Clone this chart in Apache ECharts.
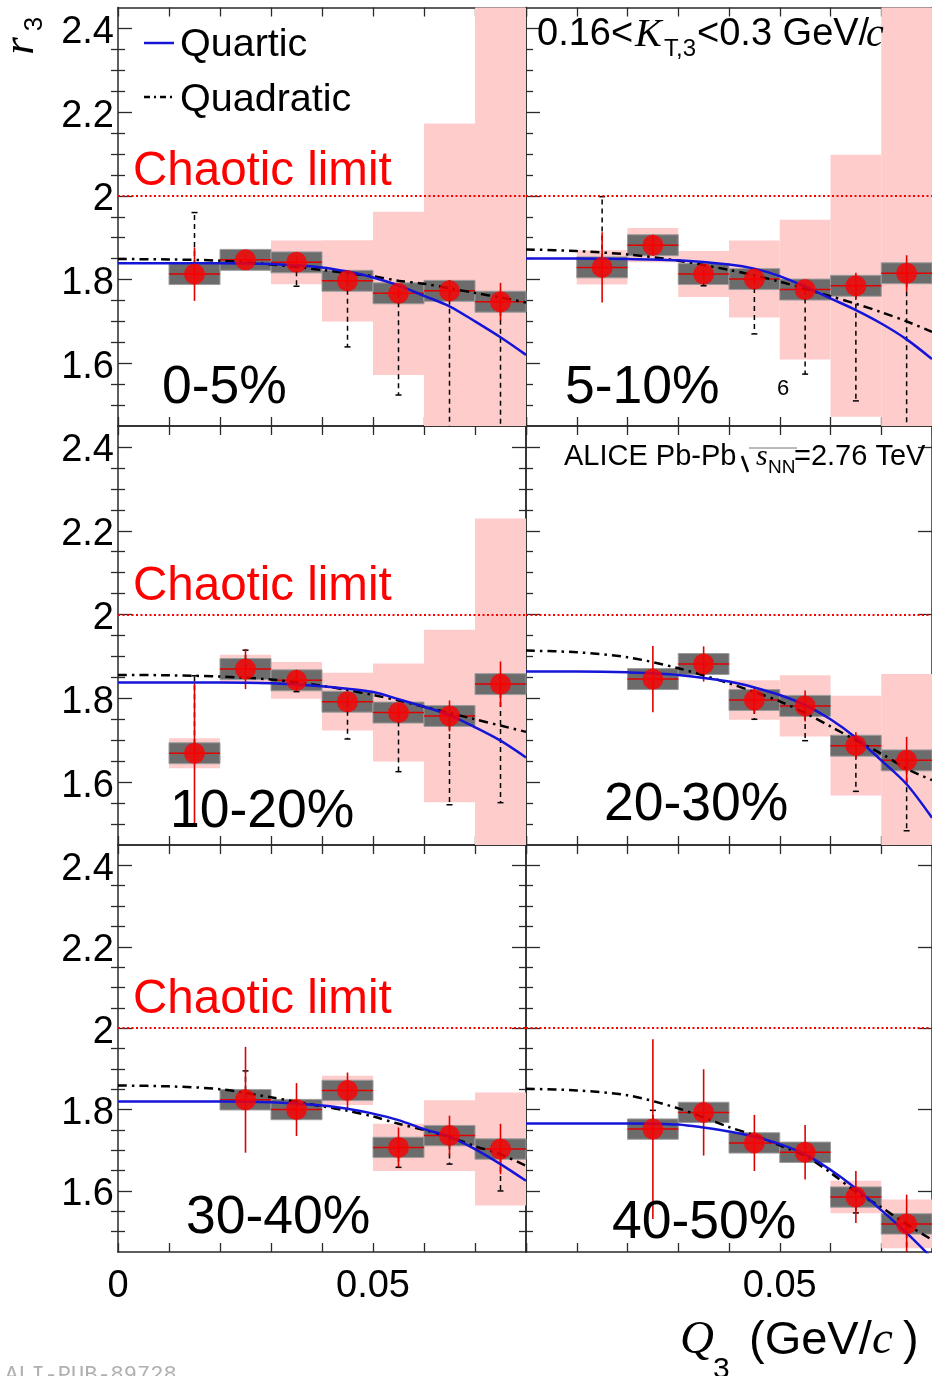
<!DOCTYPE html>
<html>
<head>
<meta charset="utf-8">
<script src="https://cdn.jsdelivr.net/npm/echarts@6/dist/echarts.min.js"></script>
<style>
html,body{margin:0;padding:0;background:#fff;}
#chart{width:932px;height:1376px;}
</style>
</head>
<body>
<div id="chart"></div>
<script>
// ---------------- DATA ----------------
const centralityLabels = ['0-5%', '5-10%', '10-20%', '20-30%', '30-40%', '40-50%'];
const binCenters = [0.015, 0.025, 0.035, 0.045, 0.055, 0.065, 0.075];
const binHalfWidth = 0.005;
const sysBoxHalf = [0.025, 0.025, 0.025, 0.025, 0.025, 0.025, 0.025];
const xTickLabelsLeft = [0, 0.05];
const xTickLabelsRight = [0.05];
const yTickLabels = [1.6, 1.8, 2.0, 2.2, 2.4];
const yMinorTicks = [1.5, 1.55, 1.65, 1.7, 1.75, 1.85, 1.9, 1.95, 2.05, 2.1, 2.15, 2.25, 2.3, 2.35];
const chaoticLimit = 2.0;

// r3 points, stat errors, pink systematic half-heights, dashed-bar end values
const r3_0_5   = [1.813, 1.847, 1.841, 1.797, 1.767, 1.773, 1.747];
const stat_0_5 = [0.064, 0.012, 0.012, 0.012, 0.012, 0.026, 0.045];
const pink_0_5 = [null, null, 0.052, 0.097, 0.195, 0.40, 0.75];
const dash_0_5 = [1.960, null, 1.784, 1.639, 1.524, 1.30, 1.30];

const r3_5_10   = [1.829, 1.882, 1.813, 1.801, 1.776, 1.785, 1.815];
const stat_5_10 = [0.084, 0.025, 0.012, 0.012, 0.012, 0.031, 0.043];
const pink_5_10 = [0.041, 0.041, 0.055, 0.092, 0.167, 0.313, 0.70];
const dash_5_10 = [1.998, null, 1.785, 1.670, 1.574, 1.510, 1.30];

const r3_10_20   = [1.669, 1.870, 1.843, 1.792, 1.766, 1.758, 1.834];
const stat_10_20 = [0.167, 0.048, 0.025, 0.015, 0.015, 0.037, 0.054];
const pink_10_20 = [0.036, 0.034, 0.044, 0.069, 0.117, 0.206, 0.395];
const dash_10_20 = [1.854, 1.915, 1.816, 1.703, 1.625, 1.546, 1.551];

const r3_20_30   = [null, 1.846, 1.882, 1.796, 1.782, 1.687, 1.652];
const stat_20_30 = [null, 0.079, 0.042, 0.032, 0.037, 0.032, 0.056];
const pink_20_30 = [null, null, null, 0.047, 0.073, 0.119, 0.206];
const dash_20_30 = [null, null, null, 1.750, 1.699, 1.578, 1.484];

const r3_30_40   = [null, 1.824, 1.800, 1.847, 1.707, 1.736, 1.703];
const stat_30_40 = [null, 0.130, 0.065, 0.044, 0.049, 0.049, 0.062];
const pink_30_40 = [null, null, null, 0.036, 0.058, 0.087, 0.139];
const dash_30_40 = [null, 1.895, null, null, 1.658, 1.666, 1.600];

const r3_40_50   = [null, 1.752, 1.793, 1.718, 1.695, 1.585, 1.519];
const stat_40_50 = [null, 0.221, 0.106, 0.069, 0.067, 0.064, 0.072];
const pink_40_50 = [null, null, null, null, null, 0.040, 0.060];
const dash_40_50 = [null, 1.798, null, null, null, 1.546, 1.40];

// fit curves
const fitQ3 = [0, 0.01, 0.02, 0.03, 0.04, 0.045, 0.05, 0.055, 0.06, 0.065, 0.07, 0.075, 0.08];
const quartic_0_5     = [1.839, 1.839, 1.839, 1.837, 1.829, 1.819, 1.805, 1.786, 1.761, 1.736, 1.700, 1.662, 1.620];
const quadratic_0_5   = [1.849, 1.848, 1.845, 1.836, 1.823, 1.815, 1.808, 1.797, 1.790, 1.779, 1.768, 1.757, 1.745];
const quartic_5_10    = [1.850, 1.850, 1.849, 1.846, 1.836, 1.826, 1.808, 1.783, 1.755, 1.727, 1.695, 1.657, 1.610];
const quadratic_5_10  = [1.872, 1.868, 1.860, 1.845, 1.823, 1.810, 1.795, 1.778, 1.760, 1.742, 1.722, 1.700, 1.675];
const quartic_10_20   = [1.838, 1.838, 1.838, 1.836, 1.829, 1.823, 1.815, 1.798, 1.780, 1.760, 1.731, 1.699, 1.659];
const quadratic_10_20 = [1.856, 1.855, 1.852, 1.845, 1.830, 1.820, 1.808, 1.795, 1.780, 1.765, 1.750, 1.735, 1.720];
const quartic_20_30   = [1.864, 1.864, 1.862, 1.856, 1.840, 1.826, 1.808, 1.784, 1.750, 1.706, 1.652, 1.595, 1.515];
const quadratic_20_30 = [1.914, 1.910, 1.898, 1.872, 1.836, 1.815, 1.793, 1.765, 1.733, 1.700, 1.668, 1.632, 1.605];
const quartic_30_40   = [1.820, 1.820, 1.820, 1.818, 1.810, 1.802, 1.790, 1.774, 1.752, 1.733, 1.703, 1.666, 1.625];
const quadratic_30_40 = [1.859, 1.857, 1.850, 1.830, 1.808, 1.797, 1.783, 1.765, 1.750, 1.733, 1.710, 1.690, 1.662];
const quartic_40_50   = [1.766, 1.766, 1.766, 1.763, 1.746, 1.733, 1.715, 1.690, 1.652, 1.606, 1.553, 1.497, 1.435];
const quadratic_40_50 = [1.851, 1.847, 1.835, 1.803, 1.757, 1.737, 1.712, 1.686, 1.645, 1.598, 1.560, 1.518, 1.480];

// ---------------- LAYOUT / STYLE ----------------
const X_MIN = 0, X_MAX = 0.08, Y_MIN = 1.45, Y_MAX = 2.45;
const gridBoxes = [
  {left: 118, top: 7.5, width: 408, height: 418.5},
  {left: 526, top: 7.5, width: 408, height: 418.5},
  {left: 118, top: 426, width: 408, height: 419},
  {left: 526, top: 426, width: 408, height: 419},
  {left: 118, top: 845, width: 408, height: 407},
  {left: 526, top: 845, width: 408, height: 407}
];
const SANS = '"Liberation Sans", Arial, Helvetica, sans-serif';
const SERIF = '"Liberation Serif", "Times New Roman", serif';
const FRAME = '#2a2a2a';
const RED = '#ff0000';
const BLUE = '#1515d8';
const PINK = '#ffcccc';
const GRAY = '#6c6c6c';
const DY = 4; // vertical text nudge

const panels = [
  {r3: r3_0_5, stat: stat_0_5, pink: pink_0_5, dash: dash_0_5, quartic: quartic_0_5, quadratic: quadratic_0_5},
  {r3: r3_5_10, stat: stat_5_10, pink: pink_5_10, dash: dash_5_10, quartic: quartic_5_10, quadratic: quadratic_5_10},
  {r3: r3_10_20, stat: stat_10_20, pink: pink_10_20, dash: dash_10_20, quartic: quartic_10_20, quadratic: quadratic_10_20},
  {r3: r3_20_30, stat: stat_20_30, pink: pink_20_30, dash: dash_20_30, quartic: quartic_20_30, quadratic: quadratic_20_30},
  {r3: r3_30_40, stat: stat_30_40, pink: pink_30_40, dash: dash_30_40, quartic: quartic_30_40, quadratic: quadratic_30_40},
  {r3: r3_40_50, stat: stat_40_50, pink: pink_40_50, dash: dash_40_50, quartic: quartic_40_50, quadratic: quadratic_40_50}
];

const lineStyleFrame = {color: FRAME, width: 1.5};

function xAxisDef(gi, position, labelVals) {
  return {
    type: 'value', gridIndex: gi, position: position, min: X_MIN, max: X_MAX, interval: 0.01,
    axisLine: {show: true, onZero: false, lineStyle: lineStyleFrame},
    axisTick: {show: true, inside: true, length: 9, lineStyle: {color: FRAME, width: 1.3}},
    axisLabel: labelVals ? {
      show: true, customValues: labelVals, margin: 16,
      formatter: v => (v === 0 ? '0' : String(+v.toFixed(2))),
      fontSize: 38, fontFamily: SANS, color: '#000'
    } : {show: false},
    splitLine: {show: false}
  };
}
function yMajorDef(gi, position, showLabels) {
  return {
    type: 'value', gridIndex: gi, position: position, min: Y_MIN, max: Y_MAX, interval: 0.05,
    axisLine: {show: true, onZero: false, lineStyle: lineStyleFrame},
    axisTick: {show: true, inside: true, length: 14, customValues: yTickLabels, lineStyle: {color: FRAME, width: 1.3}},
    axisLabel: showLabels ? {
      show: true, customValues: yTickLabels, margin: 4,
      formatter: v => '{t|' + String(Math.round(v * 10) / 10) + '}',
      rich: {t: {fontSize: 38, fontFamily: SANS, color: '#000', padding: [8, 0, 0, 0]}},
      fontSize: 38, fontFamily: SANS, color: '#000'
    } : {show: false},
    splitLine: {show: false}
  };
}
function yMinorDef(gi, position) {
  return {
    type: 'value', gridIndex: gi, position: position, min: Y_MIN, max: Y_MAX, interval: 0.05,
    axisLine: {show: false},
    axisTick: {show: true, inside: true, length: 7, customValues: yMinorTicks, lineStyle: {color: FRAME, width: 1.3}},
    axisLabel: {show: false},
    splitLine: {show: false}
  };
}

function clipToGrid(rect, cs) {
  return echarts.graphic.clipRectByRect(rect, {x: cs.x, y: cs.y, width: cs.width, height: cs.height});
}

function renderBox(fill, stroke) {
  return function (params, api) {
    const cs = params.coordSys;
    const x = api.value(0), v = api.value(1), h = api.value(2);
    if (!isFinite(h)) return null;
    const p1 = api.coord([x - binHalfWidth, v + h]);
    const p2 = api.coord([x + binHalfWidth, v - h]);
    const r = clipToGrid({x: p1[0], y: p1[1], width: p2[0] - p1[0], height: p2[1] - p1[1]}, cs);
    if (!r) return null;
    return {type: 'rect', shape: r, style: stroke ? {fill: fill, stroke: stroke, lineWidth: 1} : {fill: fill}};
  };
}

function renderErrors(params, api) {
  const x = api.value(0), v = api.value(1), s = api.value(2), d = api.value(3);
  const l = api.coord([x - binHalfWidth, v]);
  const r = api.coord([x + binHalfWidth, v]);
  const t = api.coord([x, Math.min(Y_MAX, v + s)]);
  const b = api.coord([x, Math.max(Y_MIN, v - s)]);
  const children = [];
  if (isFinite(d)) {
    const dc = Math.max(Y_MIN, Math.min(Y_MAX, d));
    const p0 = api.coord([x, v]);
    const p1 = api.coord([x, dc]);
    children.push({type: 'line', shape: {x1: p0[0], y1: p0[1], x2: p1[0], y2: p1[1]},
      style: {stroke: '#000', lineWidth: 1.5, lineDash: [5, 4]}});
    if (dc === d) {
      children.push({type: 'line', shape: {x1: p1[0] - 3, y1: p1[1], x2: p1[0] + 3, y2: p1[1]},
        style: {stroke: '#000', lineWidth: 1.5}});
    }
  }
  children.push({type: 'line', shape: {x1: l[0], y1: l[1], x2: r[0], y2: r[1]}, style: {stroke: '#e00000', lineWidth: 1.5}});
  children.push({type: 'line', shape: {x1: t[0], y1: t[1], x2: b[0], y2: b[1]}, style: {stroke: '#e00000', lineWidth: 1.6}});
  return {type: 'group', children: children};
}

const grid = [], xAxis = [], yAxis = [], series = [];

panels.forEach((p, i) => {
  const isLeft = i % 2 === 0;
  const isBottom = i >= 4;
  grid.push(Object.assign({containLabel: false}, gridBoxes[i]));
  const xi = xAxis.length;
  xAxis.push(xAxisDef(i, 'bottom', isBottom ? (isLeft ? xTickLabelsLeft : xTickLabelsRight) : null));
  xAxis.push(xAxisDef(i, 'top', null));
  const yi = yAxis.length;
  yAxis.push(yMajorDef(i, 'left', isLeft));
  yAxis.push(yMinorDef(i, 'left'));
  yAxis.push(yMajorDef(i, 'right', false));
  yAxis.push(yMinorDef(i, 'right'));

  const idx = binCenters.map((_, k) => k).filter(k => p.r3[k] != null);
  const pinkData = idx.filter(k => p.pink[k] != null).map(k => [binCenters[k], p.r3[k], p.pink[k]]);
  const grayData = idx.map(k => [binCenters[k], p.r3[k], sysBoxHalf[k]]);
  const errData = idx.map(k => [binCenters[k], p.r3[k], p.stat[k], p.dash[k] == null ? NaN : p.dash[k]]);
  const ptData = idx.map(k => [binCenters[k], p.r3[k]]);

  series.push({
    type: 'custom', name: 'sys-pink', xAxisIndex: xi, yAxisIndex: yi, z: 1,
    renderItem: renderBox(PINK, null), encode: {x: 0, y: 1}, data: pinkData, silent: true
  });
  series.push({
    type: 'custom', name: 'sys-gray', xAxisIndex: xi, yAxisIndex: yi, z: 2,
    renderItem: renderBox(GRAY, '#9c9c9c'), encode: {x: 0, y: 1}, data: grayData, silent: true
  });
  series.push({
    type: 'custom', name: 'errors', xAxisIndex: xi, yAxisIndex: yi, z: 3,
    renderItem: renderErrors, encode: {x: 0, y: 1}, data: errData, silent: true,
    markLine: {
      silent: true, symbol: 'none', label: {show: false},
      lineStyle: {color: RED, type: [2, 2.5], width: 2, opacity: 1},
      data: [{yAxis: chaoticLimit}]
    }
  });
  series.push({
    type: 'line', name: 'Quadratic', xAxisIndex: xi, yAxisIndex: yi, z: 4,
    data: fitQ3.map((q, k) => [q, p.quadratic[k]]), smooth: 0.3, showSymbol: false, symbol: 'none',
    lineStyle: {color: '#000', width: 2.5, type: [9, 5, 2.5, 5]}, silent: true
  });
  series.push({
    type: 'line', name: 'Quartic', xAxisIndex: xi, yAxisIndex: yi, z: 4,
    data: fitQ3.map((q, k) => [q, p.quartic[k]]), smooth: 0.3, showSymbol: false, symbol: 'none',
    lineStyle: {color: BLUE, width: 2.5}, silent: true
  });
  series.push({
    type: 'scatter', name: 'r3', xAxisIndex: xi, yAxisIndex: yi, z: 6,
    data: ptData, symbol: 'circle', symbolSize: 21, itemStyle: {color: RED}, silent: true
  });
});

// ---------------- TEXT / DECORATION ----------------
function txt(x, y, text, size, opts) {
  opts = opts || {};
  return {
    type: 'text', x: x, y: y + DY, rotation: opts.rotation || 0, z: 100,
    style: {
      text: text, fontSize: size, fontFamily: opts.family || SANS,
      fontStyle: opts.italic ? 'italic' : 'normal',
      fill: opts.color || '#000',
      align: opts.align || 'left', textAlign: opts.align || 'left',
      verticalAlign: 'middle', textVerticalAlign: 'middle'
    }
  };
}

const graphics = [];
// y axis title r_3 (rotated)
graphics.push(txt(21, 42, 'r', 45, {family: SERIF, italic: true, align: 'center', rotation: Math.PI / 2}));
graphics.push(txt(35, 20, '3', 26, {align: 'center', rotation: Math.PI / 2}));
// legend
graphics.push({type: 'line', z: 100, shape: {x1: 144, y1: 43, x2: 174, y2: 43}, style: {stroke: BLUE, lineWidth: 2.5}});
graphics.push(txt(180, 41, 'Quartic', 39.5));
graphics.push({type: 'line', z: 100, shape: {x1: 144, y1: 97, x2: 174, y2: 97}, style: {stroke: '#000', lineWidth: 2.5, lineDash: [6, 4, 2, 4]}});
graphics.push(txt(180, 96, 'Quadratic', 39.5));
// chaotic limit labels
[168, 583, 996].forEach(y => graphics.push(txt(133, y, 'Chaotic limit', 47.5, {color: RED})));
// centrality labels
const labelPos = [[162, 384], [565, 384], [170, 808], [604, 801], [186, 1214], [612, 1219]];
centralityLabels.forEach((t, i) => graphics.push(txt(labelPos[i][0], labelPos[i][1], t, 53.5)));
// K_T range
graphics.push(txt(537, 31, '0.16<', 38));
graphics.push(txt(635, 31, 'K', 40, {family: SERIF, italic: true}));
graphics.push(txt(664, 45, 'T,3', 24));
graphics.push(txt(697, 31, '<0.3 GeV/', 38));
graphics.push(txt(866, 31, 'c', 40, {family: SERIF, italic: true}));
// ALICE label
graphics.push(txt(564, 453, 'ALICE Pb-Pb', 29));
graphics.push({type: 'line', z: 100, shape: {x1: 742, y1: 456, x2: 748, y2: 472}, style: {stroke: '#000', lineWidth: 2.6}});
graphics.push({type: 'line', z: 100, shape: {x1: 749, y1: 448, x2: 797, y2: 448}, style: {stroke: '#777', lineWidth: 1}});
graphics.push(txt(756, 453, 's', 30, {family: SERIF, italic: true}));
graphics.push(txt(768, 464, 'NN', 19));
graphics.push(txt(794, 453, '=2.76 TeV', 29));
// stray glyph in 5-10% panel
graphics.push(txt(783, 385, '6', 22, {align: 'center'}));
// x axis title
graphics.push(txt(680, 1337, 'Q', 47, {family: SERIF, italic: true}));
graphics.push(txt(713, 1366, '3', 30));
graphics.push(txt(749, 1337, '(GeV/', 47));
graphics.push(txt(872, 1337, 'c', 47, {family: SERIF, italic: true}));
graphics.push(txt(903, 1337, ')', 47));
// figure id
graphics.push(txt(5, 1371, 'ALI-PUB-89728', 22, {family: '"Liberation Mono", "Courier New", monospace', color: '#b0b0b0'}));

const chart = echarts.init(document.getElementById('chart'), null, {renderer: 'canvas', width: 932, height: 1376});
chart.setOption({
  backgroundColor: '#ffffff',
  animation: false,
  grid: grid,
  xAxis: xAxis,
  yAxis: yAxis,
  series: series,
  graphic: graphics
});
</script>
</body>
</html>
